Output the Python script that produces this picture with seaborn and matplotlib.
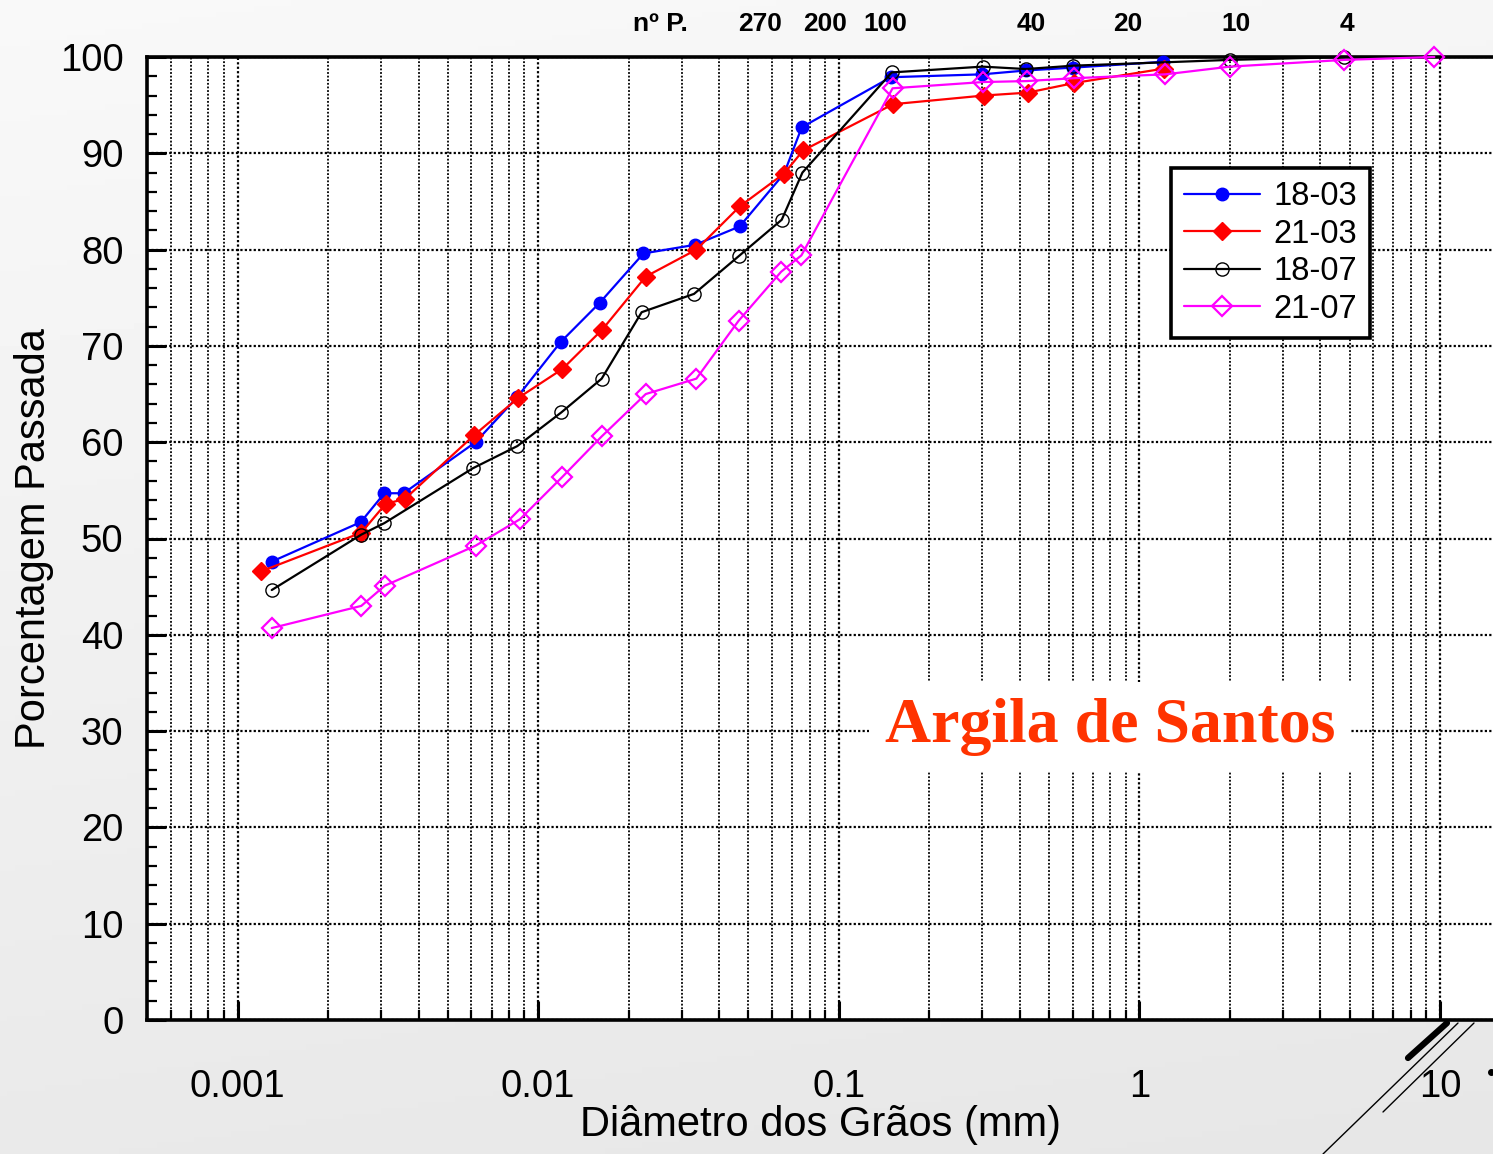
import numpy as np
import pandas as pd
import matplotlib
matplotlib.use("Agg")
import matplotlib.pyplot as plt
import seaborn as sns
from matplotlib.ticker import LogLocator, MultipleLocator, FuncFormatter, NullFormatter
from matplotlib.lines import Line2D

# ---------------- data ----------------
d_1803 = [0.0013, 0.00257, 0.00308, 0.00357, 0.00619, 0.00853, 0.01188, 0.01605, 0.0224,
          0.0333, 0.0468, 0.0658, 0.0753, 0.149, 0.300, 0.419, 0.603, 1.20]
p_1803 = [47.6, 51.7, 54.7, 54.7, 60.0, 64.7, 70.4, 74.5, 79.6,
          80.5, 82.4, 87.9, 92.7, 97.9, 98.2, 98.6, 98.9, 99.5]

d_2103 = [0.0012, 0.00258, 0.00311, 0.0036, 0.00611, 0.00859, 0.01204, 0.01635, 0.0228,
          0.0336, 0.0469, 0.0658, 0.0761, 0.1516, 0.304, 0.425, 0.607, 1.21]
p_2103 = [46.6, 50.6, 53.6, 54.1, 60.7, 64.6, 67.6, 71.7, 77.2,
          80.0, 84.5, 87.9, 90.3, 95.1, 96.0, 96.3, 97.3, 98.8]

d_1807 = [0.0013, 0.00258, 0.00308, 0.00607, 0.00853, 0.01195, 0.01627, 0.0221, 0.0330,
          0.0464, 0.0646, 0.0757, 0.150, 0.301, 0.419, 0.603, 2.0, 4.8]
p_1807 = [44.65, 50.4, 51.6, 57.3, 59.6, 63.1, 66.6, 73.5, 75.4,
          79.3, 83.1, 88.0, 98.4, 99.0, 98.75, 99.1, 99.7, 100.0]

d_2107 = [0.0013, 0.00258, 0.00309, 0.00619, 0.0087, 0.01204, 0.01627, 0.0228, 0.0336,
          0.0464, 0.0643, 0.0751, 0.151, 0.302, 0.422, 0.607, 1.22, 2.0, 4.8, 9.57]
p_2107 = [40.7, 43.0, 45.1, 49.25, 52.0, 56.4, 60.6, 65.0, 66.6,
          72.6, 77.7, 79.4, 96.75, 97.4, 97.5, 97.8, 98.2, 99.0, 99.7, 100.0]

series_names = ["18-03", "21-03", "18-07", "21-07"]
x_ticks = [0.001, 0.01, 0.1, 1, 10]
sieve_labels = ["nº P.", "270", "200", "100", "40", "20", "10", "4"]
sieve_label_x = [0.0256, 0.0549, 0.0899, 0.1425, 0.438, 0.915, 2.09, 4.9]

title_text = "Argila de Santos"
xlabel = "Diâmetro dos Grãos (mm)"
ylabel = "Porcentagem Passada"

df = pd.concat([
    pd.DataFrame({"d": d_1803, "p": p_1803, "amostra": "18-03"}),
    pd.DataFrame({"d": d_2103, "p": p_2103, "amostra": "21-03"}),
    pd.DataFrame({"d": d_1807, "p": p_1807, "amostra": "18-07"}),
    pd.DataFrame({"d": d_2107, "p": p_2107, "amostra": "21-07"}),
], ignore_index=True)

# ---------------- style ----------------
sns.set_style("white")
plt.rcParams["font.family"] = ["Liberation Sans", "DejaVu Sans"]
plt.rcParams["text.color"] = "black"
plt.rcParams["axes.labelcolor"] = "black"
plt.rcParams["xtick.color"] = "black"
plt.rcParams["ytick.color"] = "black"

W, H = 1493, 1154
fig = plt.figure(figsize=(W / 100, H / 100), dpi=100)

# slide-like gray gradient background
bg = fig.add_axes([0, 0, 1, 1], zorder=-10)
yy, xx = np.mgrid[0:1:200j, 0:1:200j]
grad = 0.975 - 0.06 * yy - 0.012 * xx
bg.imshow(grad, cmap="gray", vmin=0, vmax=1, aspect="auto", extent=[0, 1, 0, 1], origin="upper")
bg.set_xlim(0, 1); bg.set_ylim(0, 1)
bg.axis("off")

ax_l, ax_r, ax_b, ax_t = 147, 1493, 1020, 57
ax = fig.add_axes([ax_l / W, 1 - ax_b / H, (ax_r - ax_l) / W, (ax_b - ax_t) / H])
ax.set_facecolor("white")

styles = {
    "18-03": dict(color="#0000ff", marker="o", markersize=9, markerfacecolor="#0000ff",
                  markeredgecolor="#0000ff", markeredgewidth=1),
    "21-03": dict(color="#ff0000", marker="D", markersize=9, markerfacecolor="#ff0000",
                  markeredgecolor="#ff0000", markeredgewidth=1),
    "18-07": dict(color="black", marker="o", markersize=9.5, markerfacecolor="none",
                  markeredgecolor="black", markeredgewidth=1),
    "21-07": dict(color="#ff00ff", marker="D", markersize=10, markerfacecolor="none",
                  markeredgecolor="#ff00ff", markeredgewidth=1.6),
}

for name in series_names:
    sub = df[df["amostra"] == name]
    sns.lineplot(data=sub, x="d", y="p", ax=ax, sort=False, label=name,
                 linewidth=1.6, clip_on=False, zorder=5, **styles[name])

ax.set_xscale("log")
ax.set_xlim(0.0005, 15)
ax.set_ylim(0, 100)

ax.xaxis.set_minor_locator(LogLocator(base=10, subs=np.arange(2, 10), numticks=100))
ax.xaxis.set_minor_formatter(NullFormatter())
ax.set_xticks(x_ticks)
ax.xaxis.set_major_formatter(FuncFormatter(lambda v, pos: "%g" % v))
ax.yaxis.set_major_locator(MultipleLocator(10))
ax.yaxis.set_minor_locator(MultipleLocator(2))

ax.tick_params(which="major", direction="in", length=14, width=2.2, labelsize=27.5,
               top=False, right=False, bottom=True, left=True, colors="black")
ax.tick_params(which="minor", direction="in", length=7, width=1.6,
               top=False, right=False, bottom=True, left=True)
ax.tick_params(axis="x", which="major", pad=35)
ax.tick_params(axis="y", which="major", pad=17)

dot = (0, (1, 1))
ax.grid(True, which="major", axis="both", color="black", linestyle=dot, linewidth=1.6)
ax.grid(True, which="minor", axis="x", color="black", linestyle=dot, linewidth=1.3)
ax.set_axisbelow(True)

for side in ["left", "bottom", "top"]:
    ax.spines[side].set_visible(True)
    ax.spines[side].set_linewidth(2.6)
    ax.spines[side].set_color("black")
ax.spines["right"].set_visible(False)

ax.set_xlabel(xlabel, fontsize=30)
ax.set_ylabel(ylabel, fontsize=30)
ax.xaxis.set_label_coords(0.5, -0.088)
ax.yaxis.set_label_coords(-0.069, 0.5)

# sieve numbers along the top
trans = ax.get_xaxis_transform()
for lab, xv in zip(sieve_labels, sieve_label_x):
    ax.text(xv, 1.034, lab, transform=trans, ha="center", va="center",
            fontsize=19, fontweight="bold", clip_on=False)

# annotation
ax.text(0.7155, 0.304, title_text, transform=ax.transAxes, ha="center", va="center",
        fontsize=46, fontweight="bold", color="#ff3300",
        family=["Liberation Serif", "DejaVu Serif"], zorder=6,
        bbox=dict(boxstyle="square,pad=0.25", facecolor="white", edgecolor="none"))

leg = ax.legend(loc="upper right", bbox_to_anchor=((1370 - ax_l) / (ax_r - ax_l), (ax_b - 168) / (ax_b - ax_t)),
                borderaxespad=0, fontsize=23.5, frameon=True, fancybox=False, framealpha=1,
                edgecolor="black", handlelength=2.35, handletextpad=0.4, labelspacing=0.2,
                borderpad=0.4)
leg.get_frame().set_linewidth(2.6)
leg.set_zorder(10)

# slide decoration lines (bottom right)
def fl(x0, y0, x1, y1, lw):
    fig.add_artist(Line2D([x0 / W, x1 / W], [1 - y0 / H, 1 - y1 / H], color="black",
                          linewidth=lw, solid_capstyle="round", transform=fig.transFigure, zorder=-5))

fl(1408, 1058, 1447, 1023, 4.5)
fl(1323, 1154, 1458, 1023, 1.0)
fl(1383, 1112, 1474, 1023, 1.0)
fig.add_artist(Line2D([1491 / W], [1 - 1072 / H], marker="o", markersize=4, color="black",
                      transform=fig.transFigure))

fig.savefig("out.png", dpi=100)
